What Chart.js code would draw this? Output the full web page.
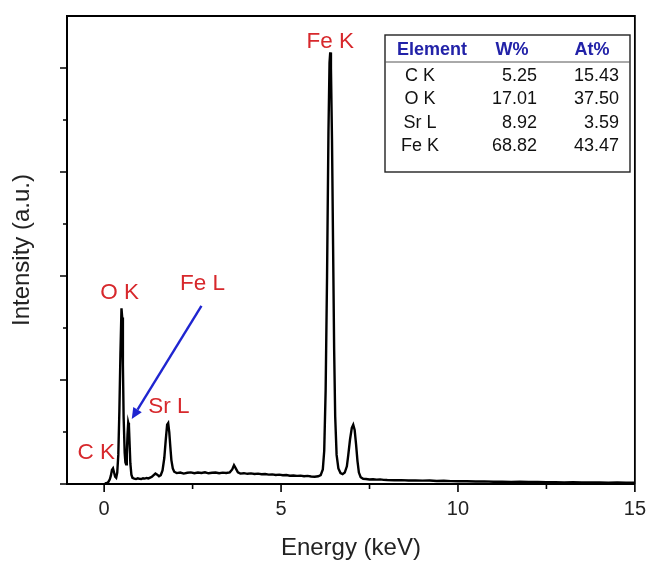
<!DOCTYPE html>
<html>
<head>
<meta charset="utf-8">
<script src="https://cdn.jsdelivr.net/npm/chart.js@4/dist/chart.umd.min.js"></script>
<style>
  html, body { margin: 0; padding: 0; background: #ffffff; }
  #wrap { width: 659px; height: 564px; position: relative; }
</style>
</head>
<body>
<div id="wrap"><canvas id="c" width="659" height="564"></canvas></div>
<script>
// ---- Data ----
const energy = [
  0.02, 0.08, 0.12, 0.16, 0.19, 0.22, 0.25, 0.28, 0.31, 0.34, 0.37, 0.40, 0.43, 0.46, 0.49, 0.51,
  0.53, 0.55, 0.58, 0.60, 0.62, 0.64, 0.66, 0.68, 0.70, 0.72, 0.74, 0.77, 0.80, 0.85, 0.90, 0.95,
  1.00, 1.05, 1.10, 1.15, 1.20, 1.25, 1.30, 1.35, 1.40, 1.45, 1.50, 1.55, 1.60, 1.65, 1.70, 1.74,
  1.78, 1.81, 1.84, 1.87, 1.90, 1.94, 1.98, 2.05, 2.15, 2.25, 2.35, 2.45, 2.55, 2.65, 2.75, 2.85,
  2.95, 3.05, 3.15, 3.25, 3.35, 3.45, 3.55, 3.62, 3.67, 3.72, 3.78, 3.85, 3.95, 4.05, 4.15, 4.25,
  4.35, 4.45, 4.55, 4.65, 4.75, 4.85, 4.95, 5.05, 5.15, 5.25, 5.35, 5.45, 5.55, 5.65, 5.75, 5.85,
  5.95, 6.05, 6.12, 6.18, 6.22, 6.26, 6.30, 6.34, 6.37, 6.39, 6.41, 6.44, 6.47, 6.50, 6.53, 6.57,
  6.62, 6.68, 6.74, 6.80, 6.86, 6.90, 6.95, 7.00, 7.04, 7.08, 7.12, 7.16, 7.20, 7.25, 7.32, 7.40,
  7.50, 7.60, 7.70, 7.80, 7.90, 8.00, 8.20, 8.40, 8.60, 8.80, 9.00, 9.20, 9.40, 9.60, 9.80, 10.00,
  10.25, 10.50, 10.75, 11.00, 11.25, 11.50, 11.75, 12.00, 12.25, 12.50, 12.75, 13.00, 13.25, 13.50,
  13.75, 14.00, 14.25, 14.50, 14.75, 15.00
];
const intensity = [
  5, 10, 20, 45, 80, 135, 150, 110, 70, 60, 110, 280, 700, 1250, 1690, 1600,
  1150, 650, 300, 210, 190, 280, 470, 590, 560, 380, 200, 90, 60, 52, 48, 55,
  50, 47, 55, 52, 58, 54, 62, 70, 85, 100, 90, 75, 85, 130, 250, 420,
  570, 585, 500, 360, 230, 150, 118, 105, 110, 100, 108, 112, 104, 110, 106, 112,
  103, 108, 110, 104, 109, 106, 112, 140, 180, 150, 112, 100, 104, 98, 102, 96,
  100, 94, 96, 90, 92, 86, 90, 84, 86, 80, 82, 78, 80, 74, 78, 72,
  70, 74, 85, 140, 320, 900, 2000, 3400, 4050, 4150, 4000, 3300, 2300, 1300, 650, 280,
  150, 105, 95, 110, 170, 280, 430, 540, 570, 520, 380, 220, 110, 65, 50, 48,
  44, 46, 42, 44, 40, 38, 36, 37, 33, 35, 32, 33, 29, 31, 28, 26,
  27, 24, 25, 22, 23, 20, 21, 19, 20, 17, 18, 16, 17, 15,
  15, 14, 13, 14, 12, 12
];

const xTickValues = [0, 5, 10, 15];
const xMinorTicks = [2.5, 7.5, 12.5];
const yMajorTicks = [0, 1000, 2000, 3000, 4000];
const yMinorTicks = [500, 1500, 2500, 3500];

// peak labels: text, energy, intensity
const peakLabels = ['Fe K', 'O K', 'Fe L', 'Sr L', 'C K'];
const peakLabelX = [6.39, 0.44, 2.78, 1.83, -0.22];
const peakLabelY = [4250, 1837, 1923, 740, 298];

// arrow (Fe L): from -> to
const arrowFrom = [2.75, 1712];
const arrowTo = [0.78, 625];

// composition table
const tableHeaders = ['Element', 'W%', 'At%'];
const tableElements = ['C K', 'O K', 'Sr L', 'Fe K'];
const tableW = ['5.25', '17.01', '8.92', '68.82'];
const tableAt = ['15.43', '37.50', '3.59', '43.47'];

// ---- Chart ----
const FONT = '"Liberation Sans", Arial, Helvetica, sans-serif';
const RED = '#d7282c';

const points = energy.map((e, i) => ({ x: e, y: intensity[i] }));

const decor = {
  id: 'decor',
  afterDraw(chart) {
    const ctx = chart.ctx;
    const xs = chart.scales.x, ys = chart.scales.y;
    const a = chart.chartArea;
    ctx.save();
    // frame top & right
    ctx.strokeStyle = '#000';
    ctx.lineWidth = 1.8;
    ctx.beginPath();
    ctx.moveTo(a.left, a.top);
    ctx.lineTo(a.right, a.top);
    ctx.lineTo(a.right, a.bottom);
    ctx.stroke();
    // x ticks
    ctx.lineWidth = 1.6;
    ctx.beginPath();
    xTickValues.forEach(v => { const p = xs.getPixelForValue(v); ctx.moveTo(p, a.bottom); ctx.lineTo(p, a.bottom + 8); });
    xMinorTicks.forEach(v => { const p = xs.getPixelForValue(v); ctx.moveTo(p, a.bottom); ctx.lineTo(p, a.bottom + 5); });
    // y ticks
    yMajorTicks.forEach(v => { const p = ys.getPixelForValue(v); ctx.moveTo(a.left, p); ctx.lineTo(a.left - 7, p); });
    yMinorTicks.forEach(v => { const p = ys.getPixelForValue(v); ctx.moveTo(a.left, p); ctx.lineTo(a.left - 4, p); });
    ctx.stroke();

    // peak labels
    ctx.fillStyle = RED;
    ctx.font = '22.5px ' + FONT;
    ctx.textAlign = 'center';
    ctx.textBaseline = 'middle';
    peakLabels.forEach((t, i) => {
      ctx.fillText(t, xs.getPixelForValue(peakLabelX[i]), ys.getPixelForValue(peakLabelY[i]));
    });

    // arrow
    const x1 = xs.getPixelForValue(arrowFrom[0]), y1 = ys.getPixelForValue(arrowFrom[1]);
    const x2 = xs.getPixelForValue(arrowTo[0]), y2 = ys.getPixelForValue(arrowTo[1]);
    const ang = Math.atan2(y2 - y1, x2 - x1);
    const hl = 11, hw = 5;
    const bx = x2 - hl * Math.cos(ang), by = y2 - hl * Math.sin(ang);
    ctx.strokeStyle = '#1f25d0';
    ctx.fillStyle = '#1f25d0';
    ctx.lineWidth = 2.4;
    ctx.beginPath();
    ctx.moveTo(x1, y1);
    ctx.lineTo(bx, by);
    ctx.stroke();
    ctx.beginPath();
    ctx.moveTo(x2, y2);
    ctx.lineTo(bx + hw * Math.sin(ang), by - hw * Math.cos(ang));
    ctx.lineTo(bx - hw * Math.sin(ang), by + hw * Math.cos(ang));
    ctx.closePath();
    ctx.fill();

    // table
    const tL = a.left + 318, tT = a.top + 19, tW = 245, tH = 137;
    ctx.fillStyle = '#fff';
    ctx.fillRect(tL, tT, tW, tH);
    ctx.strokeStyle = '#222';
    ctx.lineWidth = 1.4;
    ctx.strokeRect(tL, tT, tW, tH);
    ctx.beginPath();
    ctx.moveTo(tL, tT + 27);
    ctx.lineTo(tL + tW, tT + 27);
    ctx.lineWidth = 1;
    ctx.strokeStyle = '#555';
    ctx.stroke();
    ctx.textBaseline = 'middle';
    ctx.fillStyle = '#2222a8';
    ctx.font = 'bold 18px ' + FONT;
    ctx.textAlign = 'center';
    ctx.fillText(tableHeaders[0], tL + 47, tT + 15);
    ctx.fillText(tableHeaders[1], tL + 127, tT + 15);
    ctx.fillText(tableHeaders[2], tL + 207, tT + 15);
    ctx.fillStyle = '#111';
    ctx.font = '18px ' + FONT;
    tableElements.forEach((el, i) => {
      const yy = tT + 41 + i * 23.5;
      ctx.textAlign = 'center';
      ctx.fillText(el, tL + 35, yy);
      ctx.textAlign = 'right';
      ctx.fillText(tableW[i], tL + 152, yy);
      ctx.fillText(tableAt[i], tL + 234, yy);
    });
    ctx.restore();
  }
};

new Chart(document.getElementById('c'), {
  type: 'scatter',
  data: {
    datasets: [{
      data: points,
      showLine: true,
      borderColor: '#000',
      borderWidth: 2.4,
      pointRadius: 0,
      tension: 0,
      fill: false
    }]
  },
  options: {
    responsive: false,
    animation: false,
    events: [],
    layout: { padding: { left: 0, top: 16, right: 14, bottom: 0 } },
    plugins: { legend: { display: false }, tooltip: { enabled: false } },
    scales: {
      x: {
        type: 'linear',
        min: -1.05,
        max: 15,
        afterBuildTicks: s => { s.ticks = xTickValues.map(v => ({ value: v })); },
        afterFit: s => { s.height = 80; },
        grid: { display: false, drawTicks: false },
        border: { display: true, color: '#000', width: 2 },
        ticks: { color: '#222', font: { family: FONT, size: 20 }, padding: 13, maxRotation: 0 },
        title: { display: true, text: 'Energy (keV)', color: '#222', font: { family: FONT, size: 24, lineHeight: 1.2 }, padding: { top: 0, bottom: 1 } }
      },
      y: {
        type: 'linear',
        min: 0,
        max: 4500,
        afterBuildTicks: s => { s.ticks = yMajorTicks.map(v => ({ value: v })); },
        afterFit: s => { s.width = 67; },
        grid: { display: false, drawTicks: false },
        border: { display: true, color: '#000', width: 2 },
        ticks: { display: false },
        title: { display: true, text: 'Intensity (a.u.)', color: '#222', font: { family: FONT, size: 24, lineHeight: 1.2 }, padding: { top: 8, bottom: 0 } }
      }
    }
  },
  plugins: [decor]
});
</script>
</body>
</html>
